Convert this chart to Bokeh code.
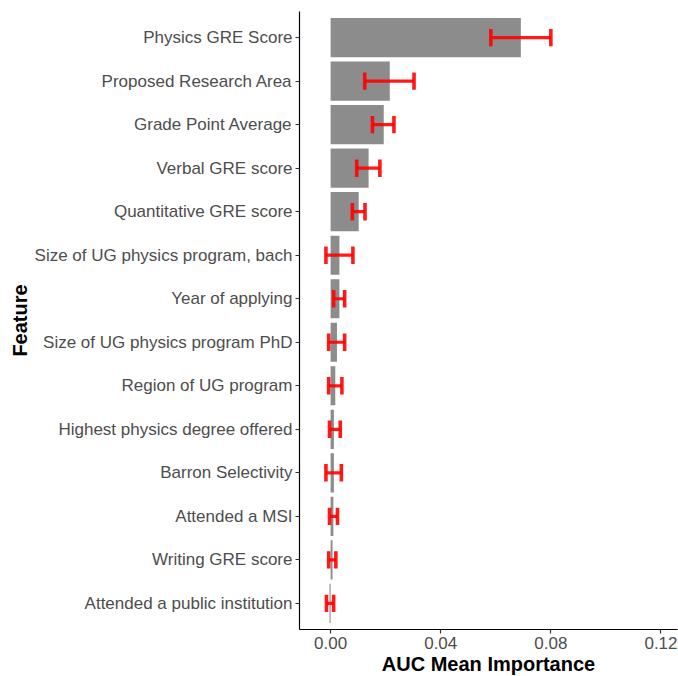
import numpy as np
from bokeh.plotting import figure
from bokeh.models import Range1d, FixedTicker
from bokeh.embed import file_html
from bokeh.resources import INLINE

features = [
    "Physics GRE Score",
    "Proposed Research Area",
    "Grade Point Average",
    "Verbal GRE score",
    "Quantitative GRE score",
    "Size of UG physics program, bach",
    "Year of applying",
    "Size of UG physics program PhD",
    "Region of UG program",
    "Highest physics degree offered",
    "Barron Selectivity",
    "Attended a MSI",
    "Writing GRE score",
    "Attended a public institution",
]
importance = [0.0691, 0.0215, 0.0193, 0.0138, 0.0102, 0.0032, 0.0032, 0.0023,
              0.0017, 0.0012, 0.0012, 0.0010, 0.0007, -0.0004]
err_low = [0.0582, 0.0124, 0.0152, 0.0095, 0.0079, -0.0017, 0.0011, -0.0007,
           -0.0007, -0.0004, -0.0017, -0.0004, -0.0007, -0.0015]
err_high = [0.0800, 0.0303, 0.0230, 0.0179, 0.0125, 0.0081, 0.0051, 0.0051,
            0.0041, 0.0035, 0.0039, 0.0025, 0.0019, 0.0011]
x_ticks = [0.00, 0.04, 0.08, 0.12]
x_tick_labels = ["0.00", "0.04", "0.08", "0.12"]

n = len(features)
ys = np.arange(n, 0, -1).astype(float)  # first feature on top
cap = 0.2

p = figure(
    output_backend="svg", toolbar_location=None,
    frame_width=378, frame_height=618,
    x_range=Range1d(-0.0113, 0.126), y_range=Range1d(0.4, n + 0.6),
    min_border_left=299, min_border_top=11, min_border_right=1, min_border_bottom=46,
)
p.outline_line_color = None
p.xgrid.visible = False
p.ygrid.visible = False
p.background_fill_color = "white"
p.border_fill_color = "white"

p.hbar(y=ys, left=0, right=importance, height=0.9, fill_color="#8C8C8C", line_color=None)

err_color = "#FF0000"
p.segment(x0=err_low, y0=ys, x1=err_high, y1=ys, line_color=err_color, line_width=3.2, line_alpha=0.9)
p.segment(x0=err_low, y0=ys - cap, x1=err_low, y1=ys + cap, line_color=err_color, line_width=3.6, line_alpha=0.9)
p.segment(x0=err_high, y0=ys - cap, x1=err_high, y1=ys + cap, line_color=err_color, line_width=3.6, line_alpha=0.9)

font = "Liberation Sans"
for ax in (p.xaxis[0], p.yaxis[0]):
    ax.axis_line_color = "black"
    ax.axis_line_width = 1.2
    ax.major_tick_line_color = "#333333"
    ax.major_tick_line_width = 1.2
    ax.major_tick_out = 4
    ax.major_tick_in = 0
    ax.minor_tick_line_color = None
    ax.major_label_text_font = font
    ax.major_label_text_font_size = "17px"
    ax.major_label_text_color = "#4D4D4D"
    ax.axis_label_text_font = font
    ax.axis_label_text_font_style = "bold"
    ax.axis_label_text_font_size = "20px"
    ax.axis_label_text_color = "black"
    ax.major_label_standoff = 3

p.xaxis.ticker = FixedTicker(ticks=x_ticks)
p.xaxis.major_label_overrides = {t: l for t, l in zip(x_ticks, x_tick_labels)}
p.xaxis.axis_label = "AUC Mean Importance"
p.xaxis.axis_label_standoff = 1

p.yaxis.ticker = FixedTicker(ticks=list(ys))
p.yaxis.major_label_overrides = {float(y): f for y, f in zip(ys, features)}
p.yaxis.axis_label = "Feature"
p.yaxis.axis_label_standoff = 1

open("out.html", "w").write(file_html(p, INLINE))
